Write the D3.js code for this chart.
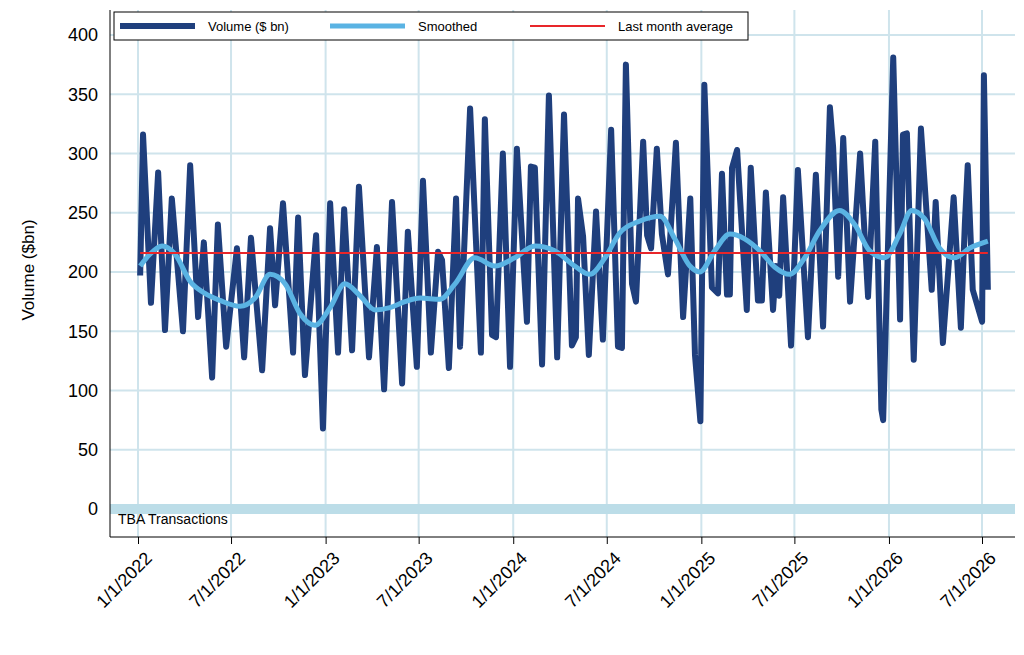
<!DOCTYPE html>
<html><head><meta charset="utf-8">
<script src="https://cdn.jsdelivr.net/npm/d3@7"></script>
<style>body{margin:0;background:#fff}svg{font-family:"Liberation Sans",Arial,sans-serif}</style>
</head><body><div id="chart"></div>
<script>
// weeks since 1/1/2022 and volume at turning points
const volWeeks = [0.6,1.4,3.6,5.6,7.5,9.4,12.5,14.5,16.7,18.3,20.6,22.2,24.5,27.5,29.5,31.4,34.5,36.7,38.1,40.3,43.1,44.5,46.4,49.5,51.4,53.4,55.6,57.3,59.5,61.4,64.2,66.4,68.4,70.6,73.4,75.0,77.5,79.2,81.4,83.4,84.5,86.4,88.4,89.5,92.3,95.3,96.4,98.4,99.5,101.4,103.4,105.3,108.1,109.2,110.3,112.3,114.2,116.5,118.4,120.6,121.7,122.3,123.7,125.3,127.3,129.2,131.5,133.4,134.5,135.6,137.3,138.4,140.4,141.5,142.6,144.2,145.6,147.3,149.5,151.5,153.5,154.8,156.3,157.4,159.5,161.2,162.3,163.7,164.5,165.1,166.5,169.2,170.3,172.3,173.4,174.5,176.5,177.3,178.2,179.3,181.5,183.4,186.2,188.4,190.4,192.3,193.2,194.6,196.0,197.9,200.7,202.9,204.9,206.6,207.1,209.9,211.8,212.6,213.7,215.6,217.6,220.6,221.7,223.7,226.7,228.7,229.8,230.6,232.0,234.6,235.1,236.2];
const volValues = [197,316,174,284,151,262,150,290,162,225,111,240,137,220,128,229,117,237,172,258,132,246,113,231,68,258,132,253,134,272,128,221,101,259,106,234,120,277,132,217,210,119,262,137,338,132,329,147,145,300,120,304,158,289,288,122,349,128,333,138,145,262,230,130,251,143,320,137,136,375,190,175,310,231,220,304,232,198,309,162,262,130,74,358,187,182,283,181,181,288,303,168,288,176,176,267,168,205,180,263,138,286,145,282,154,339,305,196,313,175,300,179,310,84,75,381,160,316,317,126,321,185,259,140,263,153,240,290,185,158,366,185];
const smoothWeeks = [0.6,3.3,6.7,10.3,14.5,18.6,22.8,28.4,32.5,36.7,40.9,45.0,49.2,53.4,57.5,61.7,65.9,70.0,74.2,78.4,83.9,88.1,93.6,99.2,104.7,110.3,115.8,121.4,125.6,129.8,133.9,139.5,145.1,149.2,153.4,156.1,160.3,164.5,168.6,172.8,177.0,181.1,185.3,189.5,195.0,199.2,203.3,207.5,211.7,215.0,218.6,222.8,226.9,231.1,236.2];
const smoothValues = [205,215,222,215,192,182,176,171,178,198,190,165,155,170,190,180,168,170,175,178,177,190,212,205,212,222,218,205,198,212,233,243,247,228,205,200,218,232,228,218,204,198,212,235,252,240,218,212,232,252,245,220,212,220,226];
const lastMonthAvg = 216;
const yTicks = [0,50,100,150,200,250,300,350,400];
const xTickLabels = ["1/1/2022","7/1/2022","1/1/2023","7/1/2023","1/1/2024","7/1/2024","1/1/2025","7/1/2025","1/1/2026","7/1/2026"];

const width = 1024, height = 655;
const m = {left:110, right:1015, top:10, bottom:537};
const start = new Date(2022,0,1);
const wk = w => new Date(start.getTime() + w*7*864e5);
const parse = d3.timeParse("%-m/%-d/%Y");
const tickDates = xTickLabels.map(parse);

const x = d3.scaleTime().domain([parse("1/1/2022"), parse("7/1/2026")]).range([138, 982]);
const y = d3.scaleLinear().domain([0,400]).range([509,35]);

const svg = d3.select("#chart").append("svg").attr("width",width).attr("height",height);

// grid
svg.append("g").selectAll("line").data(yTicks).enter().append("line")
  .attr("x1",m.left).attr("x2",m.right).attr("y1",d=>y(d)).attr("y2",d=>y(d))
  .attr("stroke","#cfe4ec").attr("stroke-width",2);
svg.append("g").selectAll("line").data(tickDates).enter().append("line")
  .attr("x1",d=>x(d)).attr("x2",d=>x(d)).attr("y1",m.top).attr("y2",m.bottom)
  .attr("stroke","#cfe4ec").attr("stroke-width",2);
svg.append("rect").attr("x",m.left).attr("width",m.right-m.left)
  .attr("y",y(0)-5).attr("height",10).attr("fill","#bcdde8");

// axes
const yAxis = svg.append("g").attr("transform",`translate(${m.left},0)`)
  .call(d3.axisLeft(y).tickValues(yTicks).tickSize(0).tickPadding(12));
yAxis.select(".domain").remove();
yAxis.selectAll("text").attr("font-size",18).attr("fill","#000");
svg.append("line").attr("x1",m.left).attr("x2",m.left).attr("y1",m.top).attr("y2",m.bottom).attr("stroke","#000");
const xAxis = svg.append("g").attr("transform",`translate(0,${m.bottom})`)
  .call(d3.axisBottom(x).tickValues(tickDates).tickFormat((d,i)=>xTickLabels[i]).tickSize(7).tickSizeOuter(0));
xAxis.select(".domain").attr("d",`M${m.left},0H${m.right}`);
xAxis.selectAll("text").attr("font-size",18).attr("fill","#000")
  .attr("text-anchor","end").attr("transform","rotate(-45)").attr("dx","-0.3em").attr("dy","0.9em");

svg.append("text").attr("transform","translate(34,270) rotate(-90)").attr("text-anchor","middle")
  .attr("font-size",17).text("Volume ($bn)");
svg.append("text").attr("x",118).attr("y",524).attr("font-size",14).text("TBA Transactions");

// lines
const vol = volWeeks.map((w,i)=>({d:wk(w),v:volValues[i]}));
const sm = smoothWeeks.map((w,i)=>({d:wk(w),v:smoothValues[i]}));
svg.append("path").datum(vol).attr("fill","none").attr("stroke","#1f3f7d").attr("stroke-width",6)
  .attr("stroke-linejoin","round").attr("d",d3.line().x(d=>x(d.d)).y(d=>y(d.v)));
svg.append("path").datum(sm).attr("fill","none").attr("stroke","#5ab3e3").attr("stroke-width",5)
  .attr("d",d3.line().curve(d3.curveMonotoneX).x(d=>x(d.d)).y(d=>y(d.v)));
svg.append("line").attr("x1",x(vol[0].d)).attr("x2",x(vol[vol.length-1].d))
  .attr("y1",y(lastMonthAvg)).attr("y2",y(lastMonthAvg)).attr("stroke","#e8262a").attr("stroke-width",2);

// legend
const lg = svg.append("g");
lg.append("rect").attr("x",114).attr("y",12).attr("width",634).attr("height",28).attr("fill","#fff").attr("stroke","#000");
const items = [["Volume ($ bn)","#1f3f7d",6,120],["Smoothed","#5ab3e3",5,330],["Last month average","#e8262a",2,530]];
items.forEach(([t,c,w,x0])=>{
  lg.append("line").attr("x1",x0).attr("x2",x0+75).attr("y1",26).attr("y2",26).attr("stroke",c).attr("stroke-width",w);
  lg.append("text").attr("x",x0+88).attr("y",31).attr("font-size",13).text(t);
});
</script></body></html>
